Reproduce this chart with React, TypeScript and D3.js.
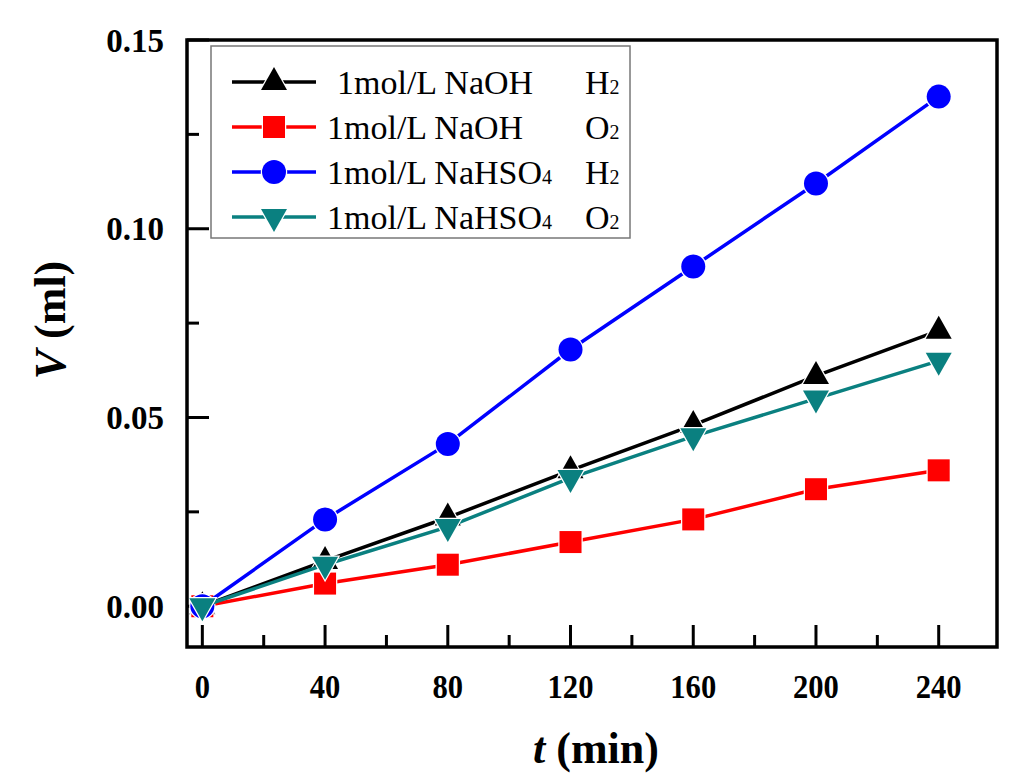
import React from 'react';
import * as d3 from 'd3';

const W = 1024;
const H = 784;

const times = [0, 40, 80, 120, 160, 200, 240];
const naohH2 = [0, 0.012, 0.0235, 0.036, 0.048, 0.061, 0.073];
const naohO2 = [0, 0.006, 0.011, 0.017, 0.023, 0.031, 0.036];
const nahso4H2 = [0, 0.023, 0.043, 0.068, 0.09, 0.112, 0.135];
const nahso4O2 = [0, 0.011, 0.021, 0.034, 0.045, 0.055, 0.065];

const xTicks = [0, 40, 80, 120, 160, 200, 240];
const xMinor = [20, 60, 100, 140, 180, 220];
const yTicks = [0, 0.05, 0.1, 0.15];
const yMinor = [0.025, 0.075, 0.125];

const series = [
  { label: '1mol/L NaOH', salt: '', gas: 'H', values: naohH2, color: '#000000', marker: 'up', indent: 10 },
  { label: '1mol/L NaOH', salt: '', gas: 'O', values: naohO2, color: '#ff0000', marker: 'square', indent: 0 },
  { label: '1mol/L NaHSO', salt: '4', gas: 'H', values: nahso4H2, color: '#0000ff', marker: 'circle', indent: 0 },
  { label: '1mol/L NaHSO', salt: '4', gas: 'O', values: nahso4O2, color: '#0a8080', marker: 'down', indent: 0 },
];

const FONT = '"Liberation Serif", "Times New Roman", serif';

// marker shapes drawn around (cx, cy), white rim gives the small gap to the line
function Marker({ kind, cx, cy, color }) {
  const rim = { stroke: '#fff', strokeWidth: 2.5, paintOrder: 'stroke' as const };
  if (kind === 'circle') return <circle cx={cx} cy={cy} r={12} fill={color} {...rim} />;
  if (kind === 'square') return <rect x={cx - 11} y={cy - 11} width={22} height={22} fill={color} {...rim} />;
  const p = d3.path();
  if (kind === 'up') {
    p.moveTo(cx, cy - 15);
    p.lineTo(cx + 13, cy + 8);
    p.lineTo(cx - 13, cy + 8);
  } else {
    p.moveTo(cx, cy + 15);
    p.lineTo(cx + 13, cy - 8);
    p.lineTo(cx - 13, cy - 8);
  }
  p.closePath();
  return <path d={p.toString()} fill={color} {...rim} />;
}

export default function App() {
  const left = 187, right = 997, top = 40, bottom = 647;
  const x = d3.scaleLinear().domain([-5, 259]).range([left, right]);
  const y = d3.scaleLinear().domain([-0.0108, 0.15]).range([bottom, top]);

  const line = d3
    .line<number>()
    .x((_, i) => x(times[i]))
    .y((d) => y(d));

  const legX = 211, legY = 46, legW = 419, legH = 192, rowH = 45;

  return (
    <svg width={W} height={H} style={{ position: 'absolute', left: 0, top: 0 }} fontFamily={FONT}>
      <rect width={W} height={H} fill="#fff" />

      {/* ticks */}
      <g stroke="#000" strokeWidth={3}>
        {xTicks.map((t) => (
          <line key={'xt' + t} x1={x(t)} x2={x(t)} y1={bottom} y2={bottom - 22} />
        ))}
        {xMinor.map((t) => (
          <line key={'xm' + t} x1={x(t)} x2={x(t)} y1={bottom} y2={bottom - 12} />
        ))}
        {yTicks.map((t) => (
          <line key={'yt' + t} x1={left} x2={left + 22} y1={y(t)} y2={y(t)} />
        ))}
        {yMinor.map((t) => (
          <line key={'ym' + t} x1={left} x2={left + 12} y1={y(t)} y2={y(t)} />
        ))}
      </g>

      {/* data */}
      {series.map((s, si) => (
        <g key={'s' + si}>
          <path d={line(s.values)} fill="none" stroke={s.color} strokeWidth={3.5} />
          {s.values.map((v, i) => (
            <Marker key={i} kind={s.marker} cx={x(times[i])} cy={y(v)} color={s.color} />
          ))}
        </g>
      ))}

      <rect x={left} y={top} width={right - left} height={bottom - top} fill="none" stroke="#000" strokeWidth={3.5} />

      {/* tick labels */}
      {yTicks.map((t) => (
        <text key={'yl' + t} x={164} y={y(t)} dy="0.35em" textAnchor="end" fontSize={33} fontWeight="bold">
          {d3.format('.2f')(t)}
        </text>
      ))}
      {xTicks.map((t) => (
        <text
          key={'xl' + t}
          transform={`translate(${x(t)},686) scale(0.9,1)`}
          dy="0.35em"
          textAnchor="middle"
          fontSize={34}
          fontWeight="bold"
        >
          {t}
        </text>
      ))}

      {/* axis titles */}
      <text x={596} y={748} dy="0.35em" textAnchor="middle" fontSize={44} fontWeight="bold">
        <tspan fontStyle="italic">t</tspan> (min)
      </text>
      <text transform="translate(50,320) rotate(-90)" dy="0.35em" textAnchor="middle" fontSize={44} fontWeight="bold">
        <tspan fontStyle="italic">V</tspan> (ml)
      </text>

      {/* legend */}
      <rect x={legX} y={legY} width={legW} height={legH} fill="#fff" stroke="#777" strokeWidth={1.5} />
      {series.map((s, i) => {
        const cy = legY + 36 + i * rowH;
        return (
          <g key={'lg' + i}>
            <line x1={232} x2={316} y1={cy} y2={cy} stroke={s.color} strokeWidth={3.5} />
            <Marker kind={s.marker} cx={274} cy={cy} color={s.color} />
            <text x={327 + s.indent} y={cy} dy="0.35em" fontSize={34}>
              {s.label}
              {s.salt && <tspan fontSize={20}>{s.salt}</tspan>}
            </text>
            <text x={585} y={cy} dy="0.35em" fontSize={34}>
              {s.gas}
              <tspan fontSize={20}>2</tspan>
            </text>
          </g>
        );
      })}
    </svg>
  );
}
